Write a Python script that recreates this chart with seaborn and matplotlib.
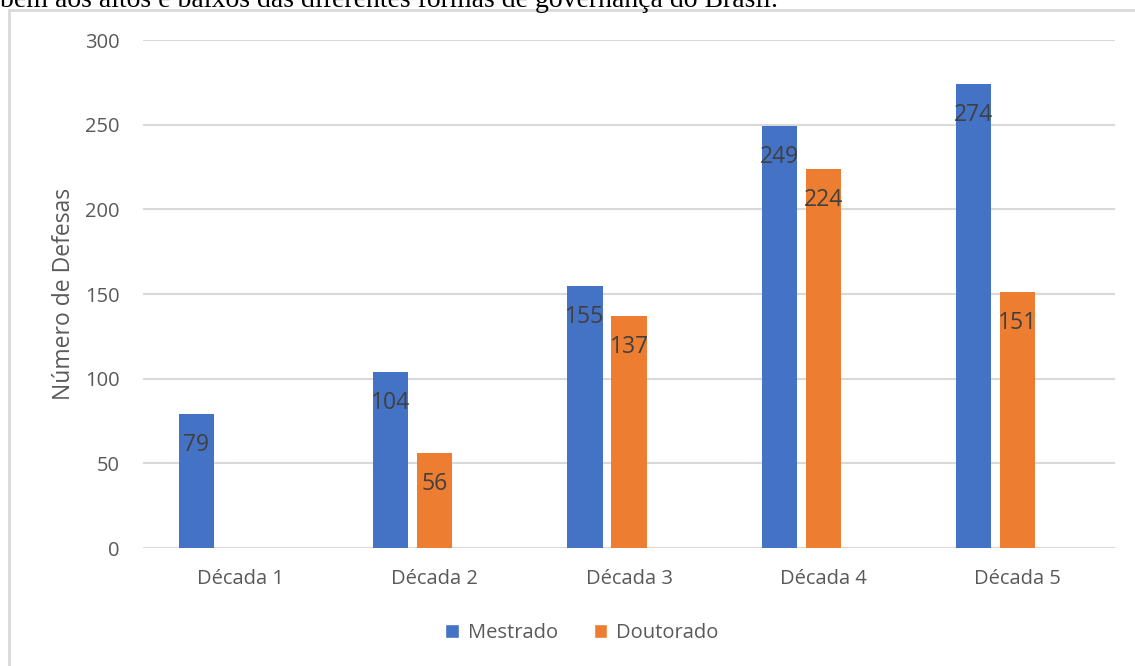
import numpy as np
import pandas as pd
import matplotlib
matplotlib.use("Agg")
import matplotlib.pyplot as plt
from matplotlib.patches import Patch
from matplotlib.lines import Line2D
import seaborn as sns

# Dados: defesas por década
decadas = ["Década 1", "Década 2", "Década 3", "Década 4", "Década 5"]
mestrado = [79, 104, 155, 249, 274]
doutorado = [np.nan, 56, 137, 224, 151]
series = ["Mestrado", "Doutorado"]
yticks = [0, 50, 100, 150, 200, 250, 300]
titulo_y = "Número de Defesas"
texto_acima = "bem aos altos e baixos das diferentes formas de governança do Brasil."

AZUL = "#4472C4"
LARANJA = "#ED7D31"
CINZA_TXT = "#595959"
CINZA_ROT = "#404040"
CINZA_GRADE = "#d9d9d9"

# Tabela longa; a terceira série vazia reserva o espaço do agrupamento
vazio = "_vazio"
df = pd.DataFrame({
    "decada": decadas * 3,
    "tipo": ["Mestrado"] * 5 + ["Doutorado"] * 5 + [vazio] * 5,
    "defesas": list(mestrado) + list(doutorado) + [np.nan] * 5,
})

sns.set_theme(style="white")
plt.rcParams["font.family"] = ["Open Sans", "DejaVu Sans"]

fig = plt.figure(figsize=(11.35, 6.66), dpi=100)
ax = fig.add_axes([143 / 1135, 1 - 548 / 666, (1115 - 143) / 1135, (548 - 40) / 666])

sns.barplot(
    data=df, x="decada", y="defesas", hue="tipo",
    order=decadas, hue_order=series + [vazio],
    palette={"Mestrado": AZUL, "Doutorado": LARANJA, vazio: "white"},
    width=0.68, gap=0.2, saturation=1, errorbar=None,
    legend=False, linewidth=0, ax=ax,
)

ax.set_ylim(0, 300)
ax.set_xlim(-0.5, len(decadas) - 0.5)
ax.set_yticks(yticks)
ax.yaxis.grid(True, color=CINZA_GRADE, linewidth=1.5)
ax.set_axisbelow(True)
for s in ax.spines.values():
    s.set_visible(False)
ax.tick_params(axis="both", length=0, labelsize=14.5, labelcolor=CINZA_TXT)
ax.tick_params(axis="y", pad=17)
ax.tick_params(axis="x", pad=15)
ax.set_xlabel("")
ax.set_ylabel(titulo_y, fontsize=16.5, color=CINZA_TXT, labelpad=6)

# Rótulos de valor dentro da ponta de cada barra
for cont in ax.containers[:2]:
    ax.bar_label(cont, fmt="{:.0f}", padding=-31, fontsize=16.5, color=CINZA_ROT)

# Legenda na base
handles = [Patch(facecolor=AZUL), Patch(facecolor=LARANJA)]
fig.legend(handles, series, loc="center", bbox_to_anchor=(582 / 1135, 1 - 633 / 666),
           ncol=2, frameon=False, fontsize=14.5, labelcolor=CINZA_TXT,
           handlelength=0.65, handleheight=0.65, handletextpad=0.45, columnspacing=1.8)

# Moldura da área do gráfico
fig.add_artist(Line2D([9 / 1135, 9 / 1135], [0, 1 - 10 / 666], transform=fig.transFigure,
                      color=CINZA_GRADE, linewidth=2))
fig.add_artist(Line2D([9 / 1135, 1.0], [1 - 10 / 666, 1 - 10 / 666], transform=fig.transFigure,
                      color=CINZA_GRADE, linewidth=2))

# Linha de texto do documento logo acima
fig.text(0.0, 1 - 7 / 666, texto_acima, family="Liberation Serif", fontsize=20,
         color="black", ha="left", va="baseline")

fig.savefig("out.png", dpi=100, facecolor="white")
